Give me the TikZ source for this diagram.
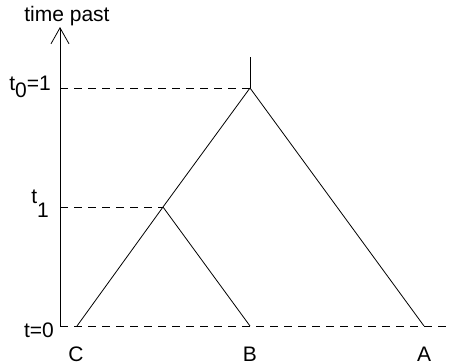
\documentclass[tikz,border=0pt]{standalone}
\usepackage{fontspec}
\setmainfont{Liberation Sans}
\usetikzlibrary{arrows.meta}
\begin{document}
\begin{tikzpicture}[x=1pt,y=-1pt,
  edge/.style={line width=0.8pt},
  guide/.style={line width=0.8pt, dash pattern=on 8pt off 6pt},
  lbl/.style={inner sep=0pt, font=\fontsize{21}{24}\selectfont}]
\useasboundingbox (0,0) rectangle (450,364);
% tree points
\coordinate (top) at (250,57);
\coordinate (root) at (250,88);
\coordinate (mid) at (163,207);
\coordinate (C) at (77,326);
\coordinate (B) at (250,326);
\coordinate (A) at (424,326);
% axis
\coordinate (ax0) at (60,326);
\coordinate (axtop) at (60,27);
\coordinate (ax1) at (60,88);
\coordinate (axm) at (60,207);
\coordinate (rightend) at (450,326);
\draw[edge, -{Straight Barb[length=16pt,width=18pt,line width=0.8pt]}] (ax0) -- (axtop);
% guides
\draw[guide] (ax1) -- (root);
\draw[guide] (axm) -- (mid);
\draw[guide] (ax0) -- (rightend);
% tree
\draw[edge] (top) -- (root);
\draw[edge] (root) -- (mid);
\draw[edge] (mid) -- (C);
\draw[edge] (mid) -- (B);
\draw[edge] (root) -- (A);
% labels
\node[lbl, anchor=base] (title) at (67,21) {time past};
\node[lbl, anchor=base east] (lt0) at (51,90) {t\raisebox{-7pt}{0}=1};
\node[lbl, anchor=base east] (lt1) at (49,203) {t\raisebox{-14pt}{1}};
\node[lbl, anchor=base east] (lt) at (54,337) {t=0};
\node[lbl, anchor=base] (lC) at (76,361) {C};
\node[lbl, anchor=base] (lB) at (250,361) {B};
\node[lbl, anchor=base] (lA) at (424,361) {A};
\end{tikzpicture}
\end{document}
